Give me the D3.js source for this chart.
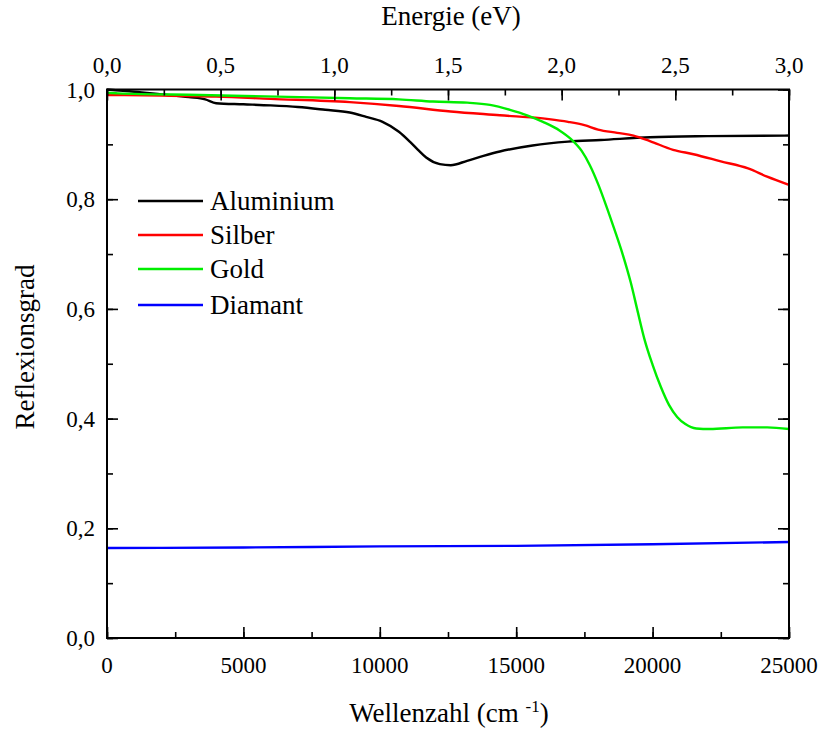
<!DOCTYPE html>
<html>
<head>
<meta charset="utf-8">
<script src="https://cdn.jsdelivr.net/npm/d3@7"></script>
<style>
  body { margin: 0; background: #fff; }
</style>
</head>
<body>
<div id="chart"></div>
<script>
// Wavenumber (cm^-1) / reflectance pairs
const aluWn = [0, 1000, 2000, 3000, 3600, 4000, 5000, 6000, 7000, 8000, 8900, 9500, 10100, 10700, 11100, 11400, 11700, 12200, 12600, 13200, 13800, 14400, 15600, 16900, 18100, 19900, 22000, 25000];
const aluR  = [1.0, 0.996, 0.991, 0.986, 0.982, 0.975, 0.973, 0.971, 0.968, 0.963, 0.958, 0.950, 0.941, 0.923, 0.905, 0.890, 0.876, 0.864, 0.862, 0.870, 0.879, 0.887, 0.898, 0.905, 0.908, 0.913, 0.915, 0.916];

const agWn = [0, 2000, 4000, 6000, 8900, 10700, 12600, 14400, 16200, 16900, 17500, 18000, 18700, 19300, 19900, 20750, 21500, 22500, 23500, 24200, 25000];
const agR  = [0.990, 0.989, 0.987, 0.983, 0.977, 0.970, 0.960, 0.953, 0.946, 0.941, 0.935, 0.927, 0.921, 0.916, 0.906, 0.890, 0.882, 0.869, 0.856, 0.841, 0.826];

const auWn = [0, 400, 3400, 8900, 10700, 11950, 13200, 14040, 14770, 15400, 15980, 16600, 17000, 17400, 17700, 18000, 18300, 18600, 18900, 19200, 19450, 19700, 20000, 20300, 20600, 20900, 21200, 21600, 22100, 23300, 24200, 25000];
const auR  = [0.994, 0.993, 0.990, 0.984, 0.982, 0.978, 0.976, 0.972, 0.963, 0.953, 0.941, 0.925, 0.910, 0.888, 0.862, 0.828, 0.788, 0.745, 0.700, 0.648, 0.596, 0.545, 0.498, 0.458, 0.425, 0.403, 0.390, 0.382, 0.381, 0.384, 0.384, 0.381];

const diaWn = [0, 5000, 10000, 15000, 20000, 25000];
const diaR  = [0.164, 0.165, 0.167, 0.168, 0.171, 0.175];

const seriesNames = ["Aluminium", "Silber", "Gold", "Diamant"];
const seriesColors = ["#000000", "#ff0000", "#00ee00", "#0000ff"];

const xTicks = [0, 5000, 10000, 15000, 20000, 25000];
const yTicks = [0, 0.2, 0.4, 0.6, 0.8, 1.0];
const eTicks = [0, 0.5, 1.0, 1.5, 2.0, 2.5, 3.0];

const W = 821, H = 729;
const plot = { left: 107, right: 789, top: 89.5, bottom: 638 };
const FONT = "'Liberation Serif', 'Times New Roman', Times, 'DejaVu Serif', 'Noto Serif', serif";

const svg = d3.select("#chart").append("svg")
  .attr("width", W)
  .attr("height", H)
  .attr("font-family", FONT);

const x = d3.scaleLinear().domain([0, 25000]).range([plot.left, plot.right]);
const xe = d3.scaleLinear().domain([0, 3]).range([plot.left, plot.right]);
const y = d3.scaleLinear().domain([0, 1]).range([plot.bottom, plot.top]);

const comma = d => d3.format(".1f")(d).replace(".", ",");

// curves
const line = d3.line()
  .x(d => x(d[0]))
  .y(d => y(d[1]))
  .curve(d3.curveMonotoneX);

const curves = [
  { name: "Diamant", wn: diaWn, r: diaR },
  { name: "Aluminium", wn: aluWn, r: aluR },
  { name: "Silber", wn: agWn, r: agR },
  { name: "Gold", wn: auWn, r: auR }
];

svg.append("g").selectAll("path")
  .data(curves)
  .enter()
  .append("path")
  .attr("fill", "none")
  .attr("stroke", d => seriesColors[seriesNames.indexOf(d.name)])
  .attr("stroke-width", 2.4)
  .attr("stroke-linejoin", "round")
  .attr("d", d => line(d.wn.map((w, i) => [w, d.r[i]])));

// axes, ticks pointing inward, labels drawn separately
function styleAxis(g) {
  g.select(".domain").remove();
  g.selectAll(".tick line").attr("stroke", "#000").attr("stroke-width", 1.6);
}

function label(sel) {
  return sel.style("font-family", FONT).style("font-size", "23px").attr("fill", "#000");
}

const minorX = d3.range(0, 25001, 2500);
const minorY = d3.range(0, 1.001, 0.1);
const minorE = d3.range(0, 3.001, 0.25);

// bottom
svg.append("g").attr("transform", `translate(0,${plot.bottom})`)
  .call(d3.axisTop(x).tickValues(minorX).tickSize(6).tickFormat(""))
  .call(styleAxis);
svg.append("g").attr("transform", `translate(0,${plot.bottom})`)
  .call(d3.axisTop(x).tickValues(xTicks).tickSize(11).tickFormat(""))
  .call(styleAxis);
svg.append("g").selectAll("text")
  .data(xTicks).enter().append("text")
  .attr("x", d => x(d))
  .attr("y", 673)
  .attr("text-anchor", "middle")
  .call(label)
  .text(d => d);

// top (energy)
svg.append("g").attr("transform", `translate(0,${plot.top})`)
  .call(d3.axisBottom(xe).tickValues(minorE).tickSize(6).tickFormat(""))
  .call(styleAxis);
svg.append("g").attr("transform", `translate(0,${plot.top})`)
  .call(d3.axisBottom(xe).tickValues(eTicks).tickSize(11).tickFormat(""))
  .call(styleAxis);
svg.append("g").selectAll("text")
  .data(eTicks).enter().append("text")
  .attr("x", d => xe(d))
  .attr("y", 73)
  .attr("text-anchor", "middle")
  .call(label)
  .text(comma);

// left
svg.append("g").attr("transform", `translate(${plot.left},0)`)
  .call(d3.axisRight(y).tickValues(minorY).tickSize(6).tickFormat(""))
  .call(styleAxis);
svg.append("g").attr("transform", `translate(${plot.left},0)`)
  .call(d3.axisRight(y).tickValues(yTicks).tickSize(11).tickFormat(""))
  .call(styleAxis);
svg.append("g").selectAll("text")
  .data(yTicks).enter().append("text")
  .attr("x", 95)
  .attr("y", d => y(d))
  .attr("dy", "0.35em")
  .attr("text-anchor", "end")
  .call(label)
  .text(comma);

// right
svg.append("g").attr("transform", `translate(${plot.right},0)`)
  .call(d3.axisLeft(y).tickValues(minorY).tickSize(6).tickFormat(""))
  .call(styleAxis);
svg.append("g").attr("transform", `translate(${plot.right},0)`)
  .call(d3.axisLeft(y).tickValues(yTicks).tickSize(11).tickFormat(""))
  .call(styleAxis);

// frame
svg.append("rect")
  .attr("x", plot.left)
  .attr("y", plot.top)
  .attr("width", plot.right - plot.left)
  .attr("height", plot.bottom - plot.top)
  .attr("fill", "none")
  .attr("stroke", "#000")
  .attr("stroke-width", 2);

// axis titles
const xt = svg.append("text")
  .attr("x", 449)
  .attr("y", 722)
  .attr("text-anchor", "middle")
  .style("font-family", FONT)
  .style("font-size", "27px");
xt.append("tspan").text("Wellenzahl (cm ");
xt.append("tspan").attr("dy", -10).style("font-size", "17px").text("-1");
xt.append("tspan").attr("dy", 10).text(")");

svg.append("text")
  .attr("x", 451)
  .attr("y", 25)
  .attr("text-anchor", "middle")
  .style("font-family", FONT)
  .style("font-size", "27px")
  .text("Energie (eV)");

svg.append("text")
  .attr("transform", "translate(34,347) rotate(-90)")
  .attr("text-anchor", "middle")
  .style("font-family", FONT)
  .style("font-size", "27px")
  .text("Reflexionsgrad");

// legend
const legend = svg.append("g");
const legendY = [201, 235, 269, 305];
seriesNames.forEach((name, i) => {
  legend.append("line")
    .attr("x1", 138).attr("x2", 203)
    .attr("y1", legendY[i]).attr("y2", legendY[i])
    .attr("stroke", seriesColors[i])
    .attr("stroke-width", 2.4);
  legend.append("text")
    .attr("x", 210)
    .attr("y", legendY[i])
    .attr("dy", "0.35em")
    .style("font-family", FONT)
    .style("font-size", "27px")
    .text(name);
});
</script>
</body>
</html>
